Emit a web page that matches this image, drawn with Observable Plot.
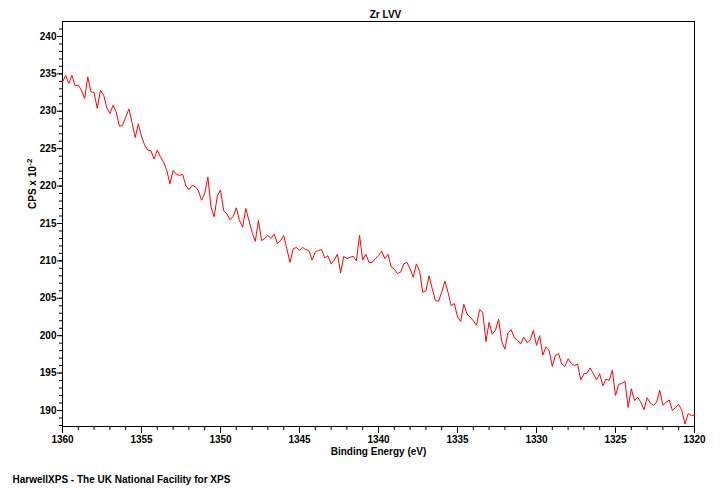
<!DOCTYPE html>
<html><head><meta charset="utf-8">
<script src="https://cdn.jsdelivr.net/npm/d3@7"></script>
<script src="https://cdn.jsdelivr.net/npm/@observablehq/plot@0.6"></script>
<style>
body{margin:0;background:#fff;}
#chart svg{display:block;}
</style></head><body><div id="chart"></div>
<script>
const title = "Zr LVV";
const xLabel = "Binding Energy (eV)";
const yLabelBase = "CPS x 10";
const yLabelExp = "-2";
const footer = "HarwellXPS - The UK National Facility for XPS";
const energyStart = 1360;
const energyStep = -0.2;
// CPS x 10^-2, from 1360.0 eV down to 1320.0 eV in 0.2 eV steps
const counts = [
  233.9, 234.8, 233.7, 234.8, 233.4, 233.5, 232.8, 231.7, 234.6, 232.6,
  232.5, 230.4, 232.8, 232.2, 230.5, 229.7, 230.8, 229.9, 228.0, 228.1,
  229.2, 230.3, 228.5, 226.5, 228.3, 226.6,
  225.5, 224.8, 224.7, 223.6, 224.8, 223.9, 223.2, 222.1, 220.3, 222.1,
  221.6, 221.4, 221.6, 220.1, 219.5, 220.1, 219.9, 219.4, 218.1, 219.0,
  221.2, 217.2, 215.9, 218.7, 219.5,
  216.7, 216.3, 215.5, 215.9, 217.1, 215.4, 214.5, 217.0, 215.4, 213.8,
  212.6, 215.4, 212.7, 213.0, 213.4, 213.0, 213.6, 212.3, 212.7, 213.4,
  211.6, 209.8, 211.6, 211.8, 211.4, 211.8, 211.5, 211.4, 210.1, 211.2,
  211.4, 211.5, 210.4, 210.7, 209.6, 210.1, 210.9, 208.4, 210.6, 210.3,
  210.5, 210.6, 210.0, 213.4, 210.1, 210.9, 209.8, 209.8, 210.3, 210.7,
  211.3, 210.3, 210.9, 209.2, 208.9, 208.3, 208.5, 209.6, 209.8, 208.9,
  207.8, 209.6, 208.6, 205.8, 206.0, 208.0, 206.3, 204.7, 204.6, 205.8,
  207.3, 205.8, 204.0, 204.3, 202.5, 201.9, 204.2, 202.9, 202.5, 202.0,
  201.4, 203.5, 203.1, 199.2, 201.8, 200.2, 200.7, 202.2, 199.2, 198.2,
  200.4, 200.8, 199.7, 199.4, 198.9, 199.8, 199.1, 199.4, 200.7, 198.7,
  200.0, 197.4, 198.5, 198.0, 195.9, 197.4, 197.6, 196.2, 195.9, 196.9,
  196.3, 196.0, 196.2, 194.1, 194.9, 195.0, 195.7, 194.9, 194.1, 194.9,
  193.3, 194.2, 194.0, 195.4, 192.0, 193.5, 193.6, 193.9, 190.4, 192.9,
  191.3, 191.8, 191.1, 190.1, 191.7, 191.0, 190.7, 191.1, 192.7, 190.7,
  191.1, 191.4, 190.0, 190.4, 190.8, 190.0, 188.2, 189.6, 189.3, 189.4
];
const xMajorTicks = [1360, 1355, 1350, 1345, 1340, 1335, 1330, 1325, 1320];
const yMajorTicks = [190, 195, 200, 205, 210, 215, 220, 225, 230, 235, 240];

const data = counts.map((c, i) => ({energy: +(energyStart + i * energyStep).toFixed(1), cps: c}));
const xMinor = d3.range(1320, 1361, 1);
const yMinor = d3.range(188, 242, 1);
const font = "'Liberation Sans', Arial, sans-serif";

const chart = Plot.plot({
  width: 720, height: 488,
  marginLeft: 62, marginRight: 26, marginTop: 21, marginBottom: 62,
  style: {fontFamily: font, fontSize: "10px", fontWeight: "bold", color: "#000", background: "#fff"},
  x: {domain: [1360, 1320]},
  y: {domain: [187.86, 242]},
  marks: [
    Plot.axisX({ticks: xMinor, tickSize: 4, text: null, label: null}),
    Plot.axisX({ticks: xMajorTicks, tickSize: 7, tickPadding: 2, tickFormat: "d", label: null}),
    Plot.axisY({ticks: yMinor, tickSize: 3, text: null, label: null}),
    Plot.axisY({ticks: yMajorTicks, tickSize: 5, tickPadding: 1, tickFormat: "d", label: null}),
    Plot.frame({stroke: "#000"}),
    Plot.line(data, {x: "energy", y: "cps", stroke: "#ff0000", strokeWidth: 1}),
    Plot.text([title], {text: d => d, frameAnchor: "top", lineAnchor: "middle", dx: 7, dy: -7, fill: "#000"}),
    Plot.text([xLabel], {text: d => d, frameAnchor: "bottom", lineAnchor: "middle", dy: 25, fill: "#000"}),
    Plot.text([yLabelBase], {text: d => d, frameAnchor: "left", lineAnchor: "middle", dx: -30, dy: -15, rotate: -90, fill: "#000", className: "ylab"}),
    Plot.text([footer], {text: d => d, frameAnchor: "bottom-left", lineAnchor: "middle", textAnchor: "start", dx: -50, dy: 53, fill: "#000"})
  ]
});
// add the superscript exponent to the y label as real text
d3.select(chart).selectAll("g.ylab text").each(function() {
  d3.select(this).append("tspan").attr("dy", "-0.45em").attr("dx", "0.5").style("font-size", "8px").text(yLabelExp);
});
document.getElementById("chart").appendChild(chart);
</script>
</body></html>
